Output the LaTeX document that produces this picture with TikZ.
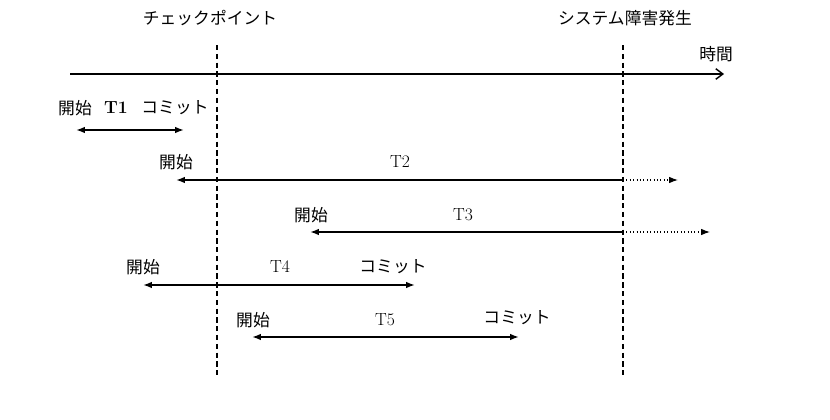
\documentclass[tikz,border=0pt]{standalone}
\usepackage{fontspec}
\newfontfamily\jp{Noto Sans CJK JP}
\usetikzlibrary{arrows.meta,positioning}

\begin{document}
\begin{tikzpicture}[x=0.03cm,y=-0.03cm,
    font=\jp\fontsize{14.3}{16}\selectfont,
    tx/.style={inner sep=1pt},
    tn/.style={inner sep=1pt,font=\fontsize{15}{17}\selectfont},
    mark line/.style={dashed,dash pattern=on 4.5pt off 3pt,line width=1pt},
    span/.style={{Latex[length=7.5pt,width=5.5pt]}-{Latex[length=7.5pt,width=5.5pt]},line width=1.3pt},
    run/.style={{Latex[length=7.5pt,width=5.5pt]}-,line width=1.3pt},
    lost/.style={-{Latex[length=7.5pt,width=5.5pt]},dotted,line width=0.9pt}]
  \useasboundingbox (0,0) rectangle (830,420);

  % checkpoint and failure
  \node[tx] (cp) at (210,18) {チェックポイント};
  \node[tx] (sf) at (625,18) {システム障害発生};
  \coordinate (cp top) at (217,45);  \coordinate (cp bot) at (217,375);
  \coordinate (sf top) at (623,45);  \coordinate (sf bot) at (623,375);
  \draw[mark line] (cp top) -- (cp bot);
  \draw[mark line] (sf top) -- (sf bot);

  % time axis
  \node[tx] (time) at (716,54) {時間};
  \coordinate (t0) at (70,74);  \coordinate (t1) at (724,74);
  \draw[-{Straight Barb[length=6pt,width=9pt]},line width=1.2pt] (t0) -- (t1);

  % T1
  \node[tx] (s1) at (75,108) {開始};
  \node[tn,font=\bfseries\fontsize{15}{17}\selectfont] (n1) at (116,108) {T1};
  \node[tx] (c1) at (175,108) {コミット};
  \coordinate (a1) at (76,130);  \coordinate (b1) at (184,130);
  \draw[span] (a1) -- (b1);

  % T2
  \node[tx] (s2) at (176,162) {開始};
  \node[tn] (n2) at (400,162) {T2};
  \coordinate (a2) at (176,180);  \coordinate (f2) at (623,180);  \coordinate (e2) at (678,180);
  \draw[run] (a2) -- (f2);
  \draw[lost] (f2) -- (e2);

  % T3
  \node[tx] (s3) at (311,215) {開始};
  \node[tn] (n3) at (463,215) {T3};
  \coordinate (a3) at (310,232);  \coordinate (f3) at (623,232);  \coordinate (e3) at (710,232);
  \draw[run] (a3) -- (f3);
  \draw[lost] (f3) -- (e3);

  % T4
  \node[tx] (s4) at (143,267) {開始};
  \node[tn] (n4) at (280,267) {T4};
  \node[tx] (c4) at (393,267) {コミット};
  \coordinate (a4) at (143,285);  \coordinate (b4) at (415,285);
  \draw[span] (a4) -- (b4);

  % T5
  \node[tx] (s5) at (253,320) {開始};
  \node[tn] (n5) at (385,320) {T5};
  \node[tx] (c5) at (517,318) {コミット};
  \coordinate (a5) at (252,337);  \coordinate (b5) at (519,337);
  \draw[span] (a5) -- (b5);
\end{tikzpicture}
\end{document}
